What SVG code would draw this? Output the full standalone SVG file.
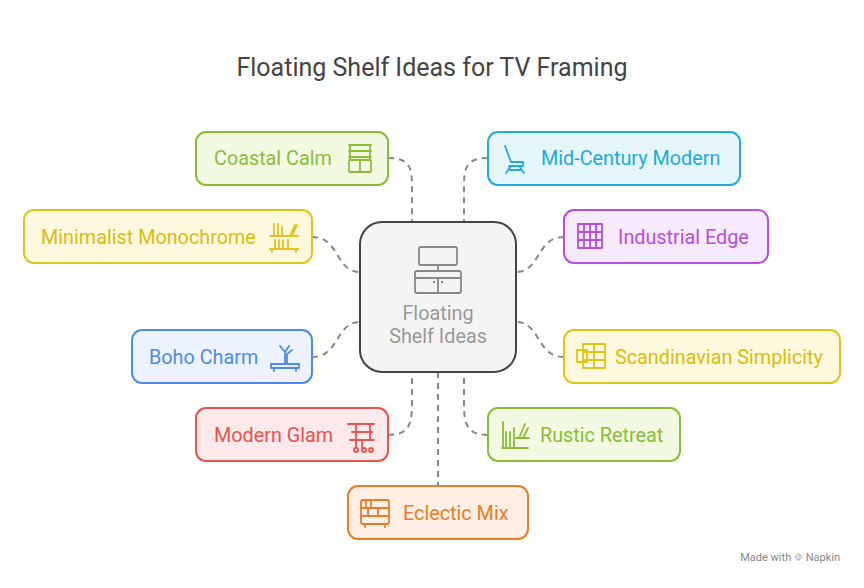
<svg xmlns="http://www.w3.org/2000/svg" width="864" height="588" viewBox="0 0 864 588">
<style>
text{font-family:Roboto,"Liberation Sans",sans-serif}
.n{stroke-width:2}
.t{font-size:19.8px;dominant-baseline:central}
.c{fill:none;stroke:#888;stroke-width:2;stroke-dasharray:6,5}
.i{fill:none;stroke-width:1.8;stroke-linecap:round;stroke-linejoin:round}
.g{stroke:#8CBB3A;fill:#F2FBE1}.gt{fill:#8CBB3A}.gi{stroke:#8CBB3A}
.b{stroke:#22AADD;fill:#E5F7FD}.bt{fill:#22AADD}.bi{stroke:#22AADD}
.y{stroke:#E0C41C;fill:#FEF9DE}.yt{fill:#D9BC10}.yi{stroke:#E0C41C}
.p{stroke:#B44FE0;fill:#F6EAFC}.pt{fill:#B44FE0}.pi{stroke:#B44FE0}
.u{stroke:#4E8BE8;fill:#ECF3FE}.ut{fill:#4E8BE8}.ui{stroke:#4E8BE8}
.r{stroke:#E55353;fill:#FDE9E9}.rt{fill:#E55353}.ri{stroke:#E55353}
.o{stroke:#E57E2A;fill:#FDEFE4}.ot{fill:#E57E2A}.oi{stroke:#E57E2A}
</style>
<rect width="864" height="588" fill="#fff"/>
<text x="432" y="67" font-size="25" fill="#444" text-anchor="middle" dominant-baseline="central">Floating Shelf Ideas for TV Framing</text>
<g id="connectors">
<path class="c" d="M388,158 C412,158 412,170 412,190 L412,222"/>
<path class="c" d="M488,158 C464,158 464,170 464,190 L464,222"/>
<path class="c" d="M312,237 C340,237 335,272 360,272"/>
<path class="c" d="M564,237 C536,237 541,272 516,272"/>
<path class="c" d="M312,357 C340,357 335,322 360,322"/>
<path class="c" d="M564,357 C536,357 541,322 516,322"/>
<path class="c" d="M388,435 C412,435 412,420 412,400 L412,372"/>
<path class="c" d="M488,435 C464,435 464,420 464,400 L464,372"/>
<path class="c" d="M438,372 L438,486"/>
</g>
<g id="center">
<rect x="360" y="222" width="156" height="150" rx="22" fill="#F4F4F4" stroke="#444" stroke-width="2"/>
<g class="i" stroke="#888"><rect x="419" y="247" width="38" height="18" rx="2"/><path d="M438,265v5"/><rect x="415" y="271" width="46" height="22" rx="2"/><path d="M415,278h46M438,278v15"/></g>
<circle cx="434" cy="282" r="1.2" fill="#888"/><circle cx="442" cy="282" r="1.2" fill="#888"/>
<text x="438" y="313" class="t" fill="#999" text-anchor="middle">Floating</text>
<text x="438" y="336" class="t" fill="#999" text-anchor="middle">Shelf Ideas</text>
</g>
<g id="coastal"><rect class="n g" x="196" y="132" width="192" height="53" rx="10"/><text class="t gt" x="214" y="158">Coastal Calm</text>
<g class="i gi"><path d="M349,145h22M349,151h22M349,157h22M350,145v15M370,145v15"/><rect x="349" y="160" width="22" height="12" rx="1"/><path d="M360,160v12"/></g></g>
<g id="midcentury"><rect class="n b" x="488" y="132" width="252" height="53" rx="10"/><text class="t bt" x="541" y="158">Mid-Century Modern</text>
<g class="i bi"><path d="M505,146l6,16h12v4h-14M511,166l-5,7M519,166l5,7M510,170h10"/></g></g>
<g id="minimalist"><rect class="n y" x="24" y="210" width="288" height="53" rx="10"/><text class="t yt" x="41" y="237">Minimalist Monochrome</text>
<g class="i yi"><path d="M270,236h28M270,249h28M272,249v3M296,249v3M274,224v12M278,224v12M282,227v9M275,240v9M279,240v9M283,240v9M288,240v9M292,236l5,-11M290,236l5,-11"/></g></g>
<g id="industrial"><rect class="n p" x="564" y="210" width="204" height="53" rx="10"/><text class="t pt" x="618" y="237">Industrial Edge</text>
<g class="i pi"><rect x="578" y="224" width="24" height="24"/><path d="M578,232h24M578,240h24M584,224v24M590,224v24M596,224v24"/></g></g>
<g id="boho"><rect class="n u" x="132" y="330" width="180" height="53" rx="10"/><text class="t ut" x="149" y="357">Boho Charm</text>
<g class="i ui"><path d="M271,364h28v4h-28zM274,368v3M296,368v3M285,364v-12l-5,-6M285,352l4,-6M287,364v-10l5,-4"/></g></g>
<g id="scandinavian"><rect class="n y" x="564" y="330" width="276" height="53" rx="10"/><text class="t yt" x="615" y="357">Scandinavian Simplicity</text>
<g class="i yi"><rect x="583" y="344" width="22" height="24"/><path d="M583,352h22M583,360h22M594,344v24"/><rect x="577" y="350" width="10" height="12"/></g></g>
<g id="glam"><rect class="n r" x="196" y="408" width="192" height="53" rx="10"/><text class="t rt" x="214" y="435">Modern Glam</text>
<g class="i ri"><path d="M348,424h26M352,432h20M350,440h24M356,424v24M370,424v16M362,440v8"/><circle cx="356" cy="450" r="2"/><circle cx="364" cy="450" r="2"/><circle cx="371" cy="450" r="2"/></g></g>
<g id="rustic"><rect class="n g" x="488" y="408" width="192" height="53" rx="10"/><text class="t gt" x="540" y="435">Rustic Retreat</text>
<g class="i gi"><path d="M502,448h26M503,422v26M506,432v16M510,432v16M514,428v20M519,438l6,-14M523,438l5,-10M516,438h13"/></g></g>
<g id="eclectic"><rect class="n o" x="348" y="486" width="180" height="53" rx="10"/><text class="t ot" x="403" y="513">Eclectic Mix</text>
<g class="i oi"><rect x="361" y="500" width="28" height="24" rx="2"/><path d="M361,508h28M361,516h28M365,524v3M385,524v3M366,500v8M371,500v8M368,508v8M378,508v8"/></g></g>
<text x="840" y="561" font-size="11" fill="#888" text-anchor="end">Made with ⯑ Napkin</text>
</svg>
